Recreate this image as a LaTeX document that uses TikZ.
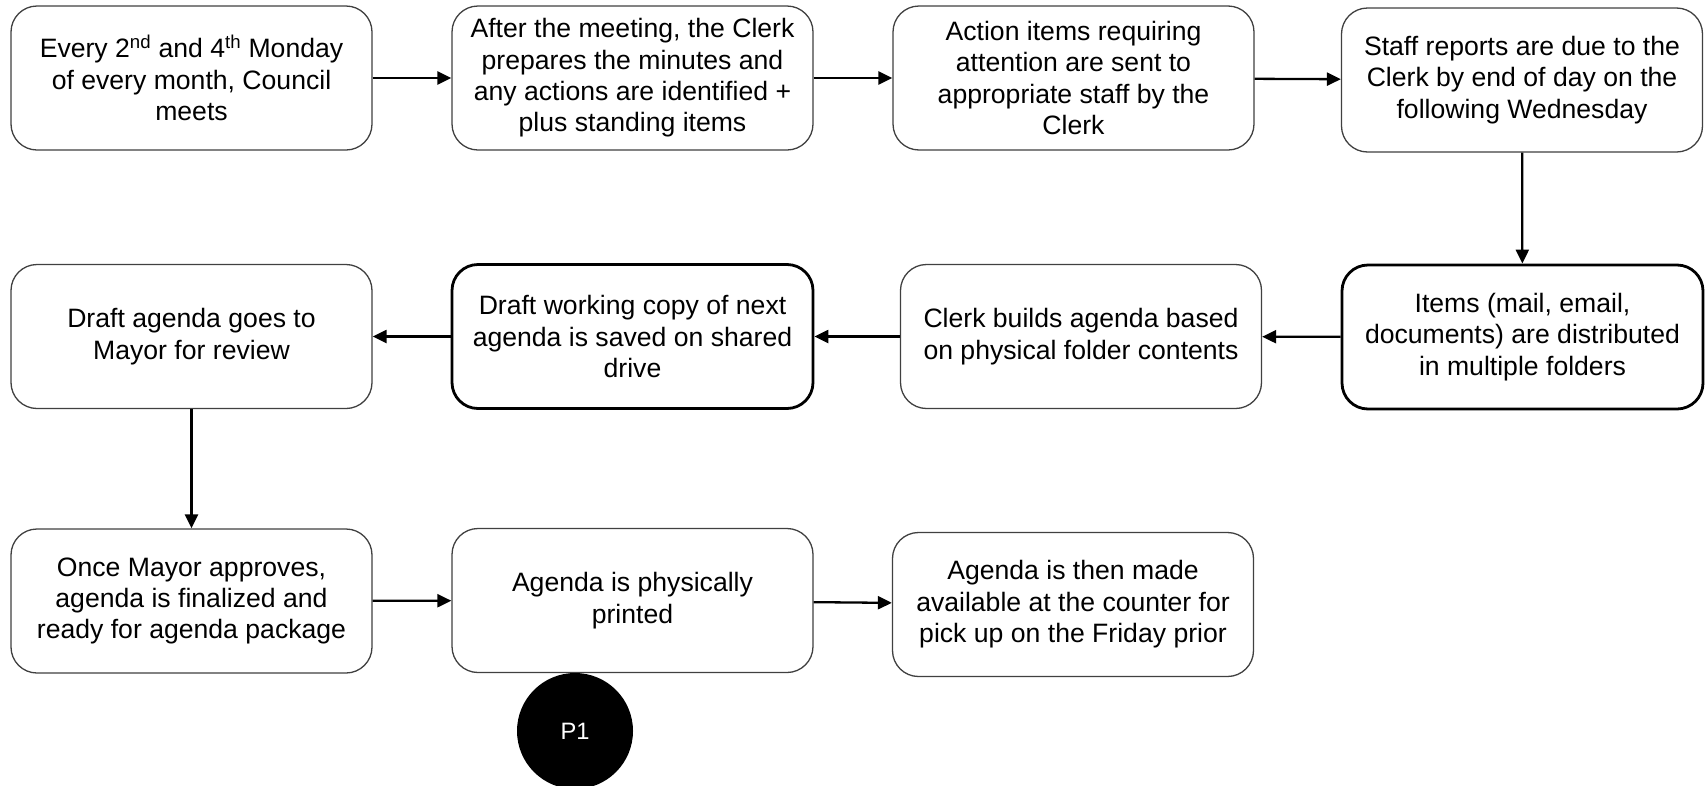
\documentclass[tikz,border=0pt]{standalone}
\usepackage{fontspec}
\setmainfont{Liberation Sans}
\usetikzlibrary{arrows.meta}
\begin{document}
\begin{tikzpicture}[x=1pt,y=-1pt,
  box/.style={draw=black!75, line width=1.3pt, rounded corners=26pt, fill=white,
    minimum width=361pt, minimum height=144pt, align=center, inner sep=0pt,
    font=\fontsize{26.6pt}{31.4pt}\selectfont},
  thickbox/.style={box, draw=black, line width=2.8pt},
  conn/.style={line width=2.3pt, -{Triangle[length=14pt,width=13pt]}},
  pcirc/.style={circle, fill=black, minimum size=116pt, inner sep=0pt, text=white,
    font=\fontsize{23.7pt}{28pt}\selectfont}]
\useasboundingbox (0,0) rectangle (1708,785);
\node[box] (b1) at (191.5,78) {Every 2\textsuperscript{nd} and 4\textsuperscript{th} Monday\\of every month, Council\\meets};
\node[box] (b2) at (632.5,78) {After the meeting, the Clerk\\prepares the minutes and\\any actions are identified +\\plus standing items};
\node[box] (b3) at (1073.5,78) {Action items requiring\\attention are sent to\\appropriate staff by the\\Clerk};
\node[box] (b4) at (1522,80) {Staff reports are due to the\\Clerk by end of day on the\\following Wednesday};
\node[thickbox] (b5) at (1522.5,337) {Items (mail, email,\\documents) are distributed\\in multiple folders};
\node[box] (b6) at (1081,336.5) {Clerk builds agenda based\\on physical folder contents};
\node[thickbox] (b7) at (632.5,336.5) {Draft working copy of next\\agenda is saved on shared\\drive};
\node[box] (b8) at (191.5,336.5) {Draft agenda goes to\\Mayor for review};
\node[box] (b9) at (191.5,601) {Once Mayor approves,\\agenda is finalized and\\ready for agenda package};
\node[box] (b10) at (632.5,600.5) {Agenda is physically\\printed};
\node[box] (b11) at (1073,604.5) {Agenda is then made\\available at the counter for\\pick up on the Friday prior};
\node[pcirc] (p1) at (575,731) {P1};
\draw[conn] (b1) -- (b2);
\draw[conn] (b2) -- (b3);
\draw[conn] (b3) -- (b4);
\draw[conn] (b4) -- (b5);
\draw[conn] (b5) -- (b6);
\draw[conn] (b6) -- (b7);
\draw[conn] (b7) -- (b8);
\draw[conn] (b8) -- (b9);
\draw[conn] (b9) -- (b10);
\draw[conn] (b10) -- (b11);
\end{tikzpicture}
\end{document}
